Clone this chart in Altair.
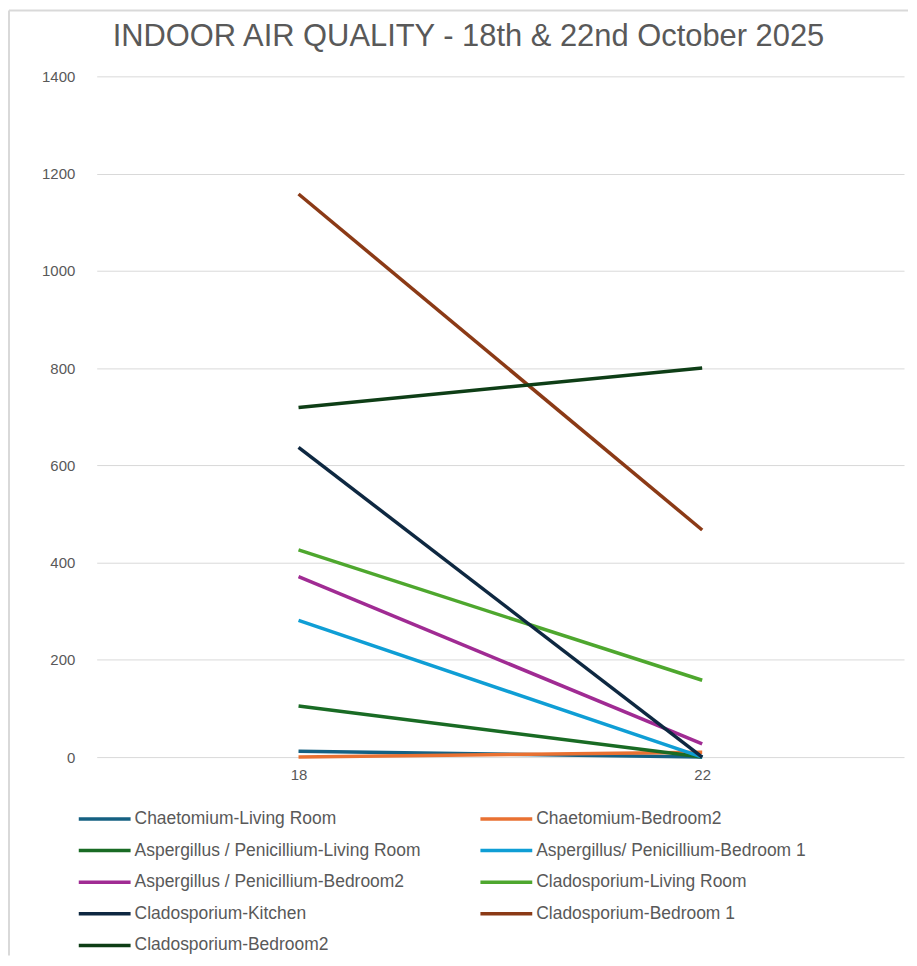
import altair as alt
import pandas as pd

days = ["18", "22"]
series = [
    "Chaetomium-Living Room",
    "Chaetomium-Bedroom2",
    "Aspergillus / Penicillium-Living Room",
    "Aspergillus/ Penicillium-Bedroom 1",
    "Aspergillus / Penicillium-Bedroom2",
    "Cladosporium-Living Room",
    "Cladosporium-Kitchen",
    "Cladosporium-Bedroom 1",
    "Cladosporium-Bedroom2",
]
values_18 = [12, 0, 105, 281, 371, 426, 637, 1158, 719]
values_22 = [0, 10, 0, 0, 27, 158, 0, 467, 800]
colors = ["#156082", "#E97132", "#196B24", "#0F9ED5", "#A02B93",
          "#4EA72E", "#0E2841", "#8B3A16", "#0E3E16"]
y_ticks = [0, 200, 400, 600, 800, 1000, 1200, 1400]

rows = []
for s, a, b in zip(series, values_18, values_22):
    rows.append({"day": days[0], "series": s, "value": a})
    rows.append({"day": days[1], "series": s, "value": b})
df = pd.DataFrame(rows)

# legend grid: two columns, filled row by row in series order
leg = pd.DataFrame({"series": series,
                    "col": [i % 2 for i in range(len(series))],
                    "row": [i // 2 for i in range(len(series))]})

font = "Liberation Sans"
gray = "#595959"
color_scale = alt.Scale(domain=series, range=colors)

lines = alt.Chart(df).mark_line(strokeWidth=3.5).encode(
    x=alt.X("day:N", sort=days, title=None,
            scale=alt.Scale(type="point", padding=0.5),
            axis=alt.Axis(labelAngle=0, ticks=False, domain=False, grid=False,
                          labelFontSize=15, labelColor=gray, labelPadding=10,
                          labelFont=font)),
    y=alt.Y("value:Q", title=None,
            scale=alt.Scale(domain=[0, 1400]),
            axis=alt.Axis(values=y_ticks, format="d",
                          ticks=False, domain=False, gridColor="#d9d9d9",
                          labelFontSize=15, labelColor=gray, labelPadding=22,
                          labelFont=font)),
    color=alt.Color("series:N", sort=series, scale=color_scale, legend=None),
    order=alt.Order("day:N"),
)

leg_x = alt.X("col:Q", scale=alt.Scale(domain=[0, 1], range=[8, 411]), axis=None)
leg_y = alt.Y("row:Q", scale=alt.Scale(domain=[0, 4], range=[745, 872]), axis=None)

leg_sym = alt.Chart(leg).mark_point(shape="stroke", size=2704, strokeWidth=3.5,
                                    filled=False, opacity=1).encode(
    x=leg_x, y=leg_y,
    color=alt.Color("series:N", sort=series, scale=color_scale, legend=None))

leg_txt = alt.Chart(leg).mark_text(align="left", baseline="middle", dx=30,
                                   fontSize=17.5, font=font, color=gray).encode(
    x=leg_x, y=leg_y, text="series:N")

frame_df = pd.DataFrame({"k": [0]})
left_edge = alt.Chart(frame_df).mark_rule(color="#d9d9d9", strokeWidth=2).encode(
    x=alt.value(-88), y=alt.value(-66), y2=alt.value(882))
top_edge = alt.Chart(frame_df).mark_rule(color="#d9d9d9", strokeWidth=2).encode(
    x=alt.value(-88), x2=alt.value(814), y=alt.value(-66))

chart = alt.layer(left_edge, top_edge, lines, leg_sym, leg_txt).resolve_scale(
    x="independent", y="independent"
).properties(
    width=810, height=683,
    title=alt.TitleParams("INDOOR AIR QUALITY - 18th & 22nd October 2025",
                          fontSize=31, font=font, fontWeight="normal",
                          color=gray, anchor="middle", frame="bounds",
                          offset=-44, dx=10),
    padding={"left": 0, "top": 0, "right": 0, "bottom": 0},
).configure_view(stroke=None)

chart.save("out.html", embed_options={"renderer": "svg", "actions": False})
